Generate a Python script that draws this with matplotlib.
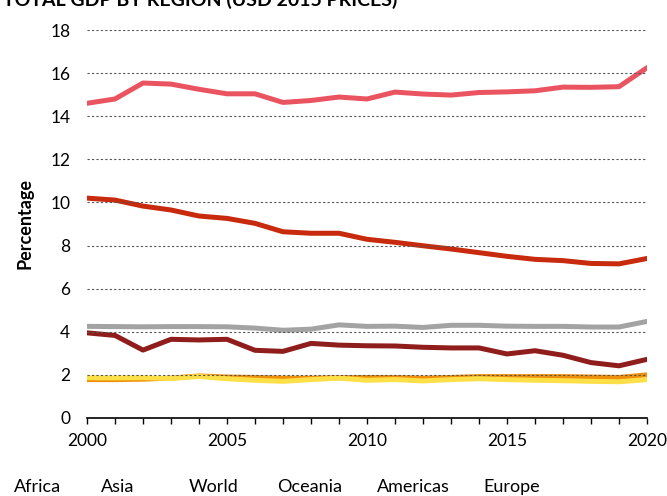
import matplotlib.pyplot as plt
import numpy as np

# Data
years = np.arange(2000, 2021)
africa = [14.6, 14.8, 15.54, 15.49, 15.25, 15.04, 15.04, 14.64, 14.73, 14.89, 14.8,
          15.12, 15.03, 14.98, 15.1, 15.13, 15.18, 15.35, 15.34, 15.37, 16.25]
asia = [10.2, 10.11, 9.83, 9.65, 9.37, 9.26, 9.03, 8.64, 8.57, 8.57, 8.29,
        8.15, 7.99, 7.84, 7.67, 7.5, 7.36, 7.3, 7.17, 7.15, 7.4]
world = [4.25, 4.24, 4.23, 4.24, 4.24, 4.23, 4.17, 4.07, 4.12, 4.32, 4.25,
         4.26, 4.2, 4.3, 4.3, 4.26, 4.25, 4.25, 4.22, 4.22, 4.48]
oceania = [3.95, 3.83, 3.15, 3.65, 3.62, 3.65, 3.14, 3.09, 3.46, 3.38, 3.35,
           3.34, 3.28, 3.25, 3.25, 2.97, 3.12, 2.91, 2.57, 2.42, 2.72]
americas = [1.78, 1.78, 1.8, 1.85, 1.95, 1.9, 1.88, 1.85, 1.85, 1.87, 1.88,
            1.88, 1.85, 1.88, 1.92, 1.92, 1.92, 1.92, 1.9, 1.88, 2.0]
europe = [1.87, 1.86, 1.87, 1.83, 1.93, 1.82, 1.75, 1.7, 1.78, 1.85, 1.75,
          1.78, 1.72, 1.78, 1.82, 1.78, 1.75, 1.73, 1.7, 1.68, 1.78]

regions = ['Africa', 'Asia', 'World', 'Oceania', 'Americas', 'Europe']
series = [africa, asia, world, oceania, americas, europe]
colors = ['#EA5360', '#C72A0C', '#A3A3A3', '#8E1D1B', '#F0900A', '#FDE047']

yticks = np.arange(0, 19, 2)
xticks = [2000, 2005, 2010, 2015, 2020]

plt.rcParams['font.family'] = ['Lato', 'DejaVu Sans']

fig = plt.figure(figsize=(6.67, 4.96), dpi=100)
ax = fig.add_axes([0.1304, 0.1573, 0.8396, 0.7822])

for vals, col in zip(series, colors):
    ax.plot(years, vals, color=col, linewidth=3.6, solid_capstyle='round',
            solid_joinstyle='round', zorder=2)

# dotted gridlines above the lines
for t in yticks[1:]:
    ax.axhline(t, color='#555555', linewidth=0.8, linestyle=(0, (2, 2)), zorder=3)

ax.set_xlim(2000, 2020)
ax.set_ylim(0, 18)
ax.set_yticks(yticks)
ax.set_xticks(xticks)
ax.set_xticks(years, minor=True)
ax.tick_params(axis='y', length=0, pad=12, labelsize=12.5)
ax.tick_params(axis='x', which='both', direction='out', length=4, width=1,
               labelsize=12.5, pad=7)

for s in ['top', 'right', 'left']:
    ax.spines[s].set_visible(False)
ax.spines['bottom'].set_linewidth(1.2)
ax.set_ylabel('Percentage', fontsize=13, fontweight='bold', labelpad=12)

# title sits partly above the top edge, as in the reference
fig.text(0.005, 1 - 6 / 496, 'TOTAL GDP BY REGION (USD 2015 PRICES)',
         fontsize=14, fontweight='bold', va='baseline', ha='left')

# legend labels along the bottom
label_x = [14, 101, 189, 277, 377, 483]
for name, lx in zip(regions, label_x):
    fig.text(lx / 667, 1 - 487 / 496, name, fontsize=13, va='center', ha='left')

fig.savefig('out.png', dpi=100)
